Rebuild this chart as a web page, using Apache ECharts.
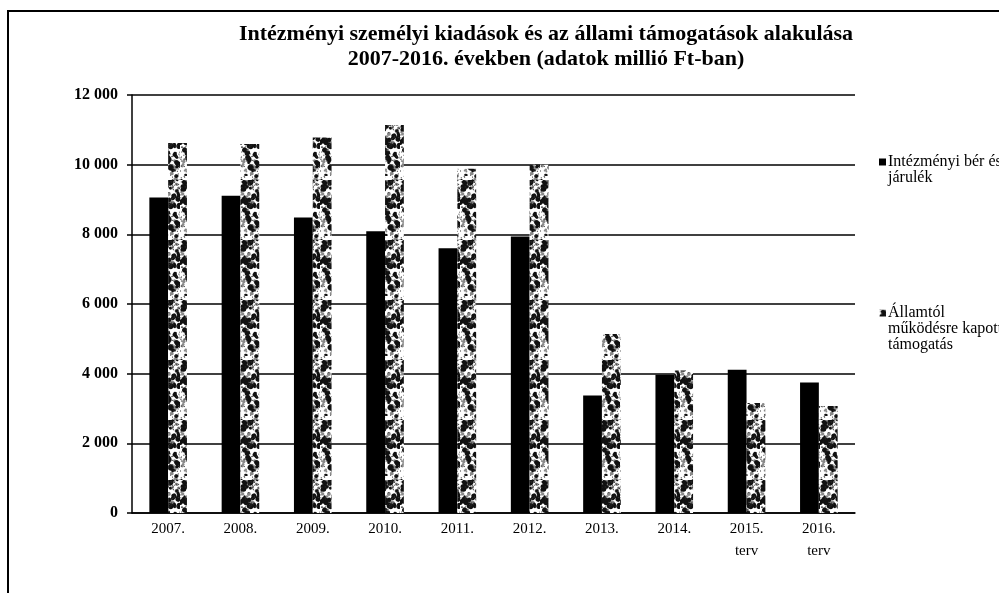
<!DOCTYPE html>
<html>
<head>
<meta charset="utf-8">
<script src="https://cdn.jsdelivr.net/npm/echarts@6/dist/echarts.min.js"></script>
<style>html,body{margin:0;padding:0;background:#fff;}#c{width:999px;height:593px;}</style>
</head>
<body>
<div id="c"></div>
<script>
var categories = ['2007.', '2008.', '2009.', '2010.', '2011.', '2012.', '2013.', '2014.', '2015.\nterv', '2016.\nterv'];
var berJarulek = [9060, 9110, 8480, 8090, 7600, 7940, 3370, 3970, 4110, 3750];
var allamiTamogatas = [10620, 10590, 10780, 11140, 9880, 10000, 5140, 4090, 3160, 3070];
var seriesNames = ['Intézményi bér és járulék', 'Államtól működésre kapott támogatás'];
var legendLabels = ['Intézményi bér és\njárulék', 'Államtól\nműködésre kapott\ntámogatás'];
var yTicks = [0, 2000, 4000, 6000, 8000, 10000, 12000];

// speckled texture for the second series (deterministic)
function makePattern() {
  var cv = document.createElement('canvas');
  cv.width = 20; cv.height = 60;
  var ctx = cv.getContext('2d');
  ctx.fillStyle = '#ffffff';
  ctx.fillRect(0, 0, 20, 60);
  var s = 987654;
  function rnd() { s = (s * 1103515245 + 12345) % 2147483648; return s / 2147483648; }
  ctx.fillStyle = '#8a8a8a';
  for (var k = 0; k < 40; k++) {
    ctx.beginPath();
    ctx.arc(rnd() * 20, rnd() * 60, 0.8 + rnd() * 1.8, 0, Math.PI * 2);
    ctx.fill();
  }
  ctx.fillStyle = '#111111';
  for (var i = 0; i < 48; i++) {
    var x = rnd() * 20, y = rnd() * 60, r = 0.7 + rnd() * 2.4;
    ctx.beginPath();
    ctx.ellipse(x, y, r, r * (0.6 + rnd() * 0.8), rnd() * 3, 0, Math.PI * 2);
    ctx.fill();
  }
  ctx.fillStyle = '#333333';
  for (var j = 0; j < 90; j++) {
    ctx.fillRect(rnd() * 20, rnd() * 60, 1, 1);
  }
  return cv;
}
var pat = makePattern();

// legend icon aligned with the first text line: pad with blank lines above
function legendText(i) {
  var lines = legendLabels[i].split('\n');
  var pad = [];
  for (var k = 1; k < lines.length; k++) pad.push(' ');
  return pad.concat(lines).join('\n');
}

var chart = echarts.init(document.getElementById('c'), null, {renderer: 'canvas'});
var serif = '"Liberation Serif", "Times New Roman", serif';
chart.setOption({
  backgroundColor: '#fff',
  animation: false,
  title: {
    text: 'Intézményi személyi kiadások és az állami támogatások alakulása\n2007-2016. években (adatok millió Ft-ban)',
    left: 541, top: 17, textAlign: 'center',
    textStyle: {fontFamily: serif, fontWeight: 'bold', fontSize: 22, lineHeight: 25, color: '#000'}
  },
  legend: {
    orient: 'vertical', left: 874, top: 133, itemGap: 87,
    itemWidth: 7, itemHeight: 7, icon: 'rect',
    data: seriesNames,
    formatter: function (n) { return legendText(seriesNames.indexOf(n)); },
    textStyle: {fontFamily: serif, fontSize: 16, lineHeight: 16, color: '#000', padding: [0, 0, 0, -3]}
  },
  grid: {left: 132, right: 144, top: 95, bottom: 80, containLabel: false},
  xAxis: {
    type: 'category', data: categories,
    axisLine: {lineStyle: {color: '#000', width: 1.5}},
    axisTick: {show: false},
    axisLabel: {fontFamily: serif, fontSize: 15, color: '#000', margin: 5, lineHeight: 22, interval: 0}
  },
  yAxis: {
    type: 'value', min: 0, max: 12000, interval: 2000,
    axisLine: {show: true, lineStyle: {color: '#000', width: 1.5}},
    axisTick: {show: true, length: 5, lineStyle: {color: '#000', width: 1.5}},
    splitLine: {lineStyle: {color: '#000', width: 1.5}},
    axisLabel: {
      fontFamily: serif, fontSize: 16, fontWeight: 'bold', color: '#000', margin: 14,
      formatter: function (v) { return yTicks.indexOf(v) >= 0 ? String(v).replace(/\B(?=(\d{3})+(?!\d))/g, ' ') : ''; }
    }
  },
  graphic: [
    {type: 'line', shape: {x1: 7, y1: 11, x2: 999, y2: 11}, style: {stroke: '#000', lineWidth: 2}},
    {type: 'line', shape: {x1: 8, y1: 11, x2: 8, y2: 593}, style: {stroke: '#000', lineWidth: 2}}
  ],
  series: [
    {name: seriesNames[0], type: 'bar', data: berJarulek, barGap: '0%', barCategoryGap: '48%',
     itemStyle: {color: '#000'}},
    {name: seriesNames[1], type: 'bar', data: allamiTamogatas,
     itemStyle: {color: {image: pat, repeat: 'repeat'}}}
  ]
});
</script>
</body>
</html>
